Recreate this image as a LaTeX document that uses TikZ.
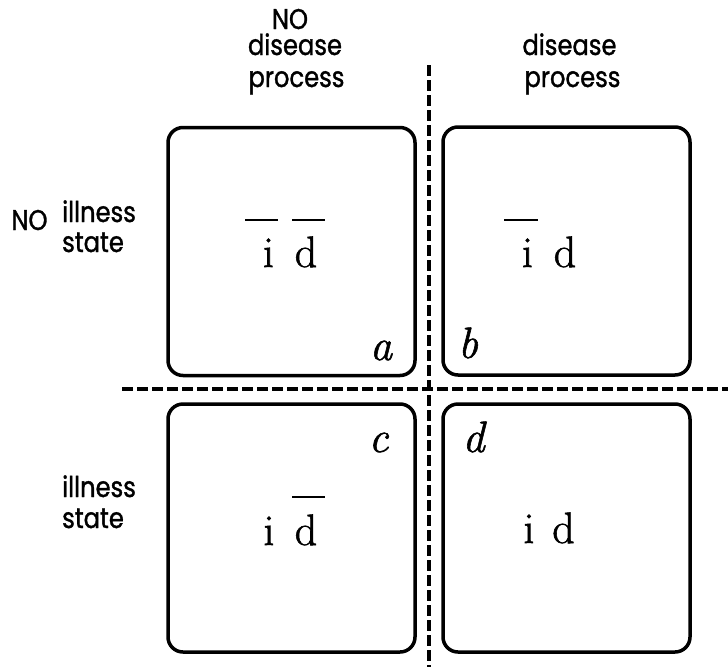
\documentclass[tikz,border=0pt]{standalone}
\usepackage{fontspec}
\setmainfont{Latin Modern Roman}
\newfontfamily\lblfont[FakeStretch=0.85,FakeBold=1.2]{Poppins}
\newfontfamily\varfont[FakeBold=1.3]{Latin Modern Roman}
\tikzset{
  cell/.style={draw, line width=3.5pt, rounded corners=15pt, minimum width=247pt, minimum height=248pt, inner sep=0pt},
  sep/.style={line width=3.5pt, dash pattern=on 11pt off 4pt},
  lbl/.style={inner sep=0pt, font=\lblfont\fontsize{28.5}{28.5}\selectfont},
  var/.style={inner sep=0pt, anchor=base, font=\varfont\fontsize{44}{44}\selectfont},
  tag/.style={inner sep=0pt, anchor=base, font=\varfont\itshape\fontsize{44}{44}\selectfont},
  bar/.style={line width=2.5pt}
}
\begin{document}
\begin{tikzpicture}[x=1pt,y=-1pt]
\useasboundingbox (0,0) rectangle (728,667);
% boxes
\node[cell] (boxa) at (291.5,251.5) {};
\node[cell] (boxb) at (566.5,251) {};
\node[cell] (boxc) at (291.5,528) {};
\node[cell] (boxd) at (566.5,528) {};
% separators
\coordinate (vtop) at (429,65);
\coordinate (vbot) at (429,667);
\coordinate (hl) at (122,389);
\coordinate (hr) at (728,389);
\draw[sep] (vtop) -- (vbot);
\draw[sep] (hl) -- (hr);
% column headings
\node[lbl, anchor=base] (no1) at (290,29) {NO};
\node[lbl, anchor=base] (dis1) at (295,55) {disease};
\node[lbl, anchor=base] (pro1) at (296.5,87) {process};
\node[lbl, anchor=base] (dis2) at (569.5,55) {disease};
\node[lbl, anchor=base] (pro2) at (572.5,87) {process};
% row headings
\node[lbl, anchor=base] (no2) at (29.5,230) {NO};
\node[lbl, anchor=base west] (ill1) at (62,222) {illness};
\node[lbl, anchor=base west] (sta1) at (62,252) {state};
\node[lbl, anchor=base west] (ill2) at (62,497) {illness};
\node[lbl, anchor=base west] (sta2) at (62,528) {state};
% box a
\node[var] (ai) at (268.5,267) {i};
\node[var] (ad) at (306,267) {d};
\coordinate (abi1) at (245,220); \coordinate (abi2) at (278,220);
\coordinate (abd1) at (292,220); \coordinate (abd2) at (325,220);
\draw[bar] (abi1) -- (abi2);
\draw[bar] (abd1) -- (abd2);
\node[tag] (ta) at (381,360) {a};
% box b
\node[var] (bi) at (527.5,267) {i};
\node[var] (bd) at (565,267) {d};
\coordinate (bbi1) at (504,220); \coordinate (bbi2) at (538,220);
\draw[bar] (bbi1) -- (bbi2);
\node[tag] (tb) at (468,358) {b};
% box c
\node[var] (ci) at (269,545) {i};
\node[var] (cd) at (306,545) {d};
\coordinate (cbd1) at (292,497); \coordinate (cbd2) at (325,497);
\draw[bar] (cbd1) -- (cbd2);
\node[tag] (tc) at (378.5,452) {c};
% box d
\node[var] (di) at (529,543) {i};
\node[var] (dd) at (563.5,543) {d};
\node[tag] (td) at (473.5,452) {d};
\end{tikzpicture}
\end{document}
